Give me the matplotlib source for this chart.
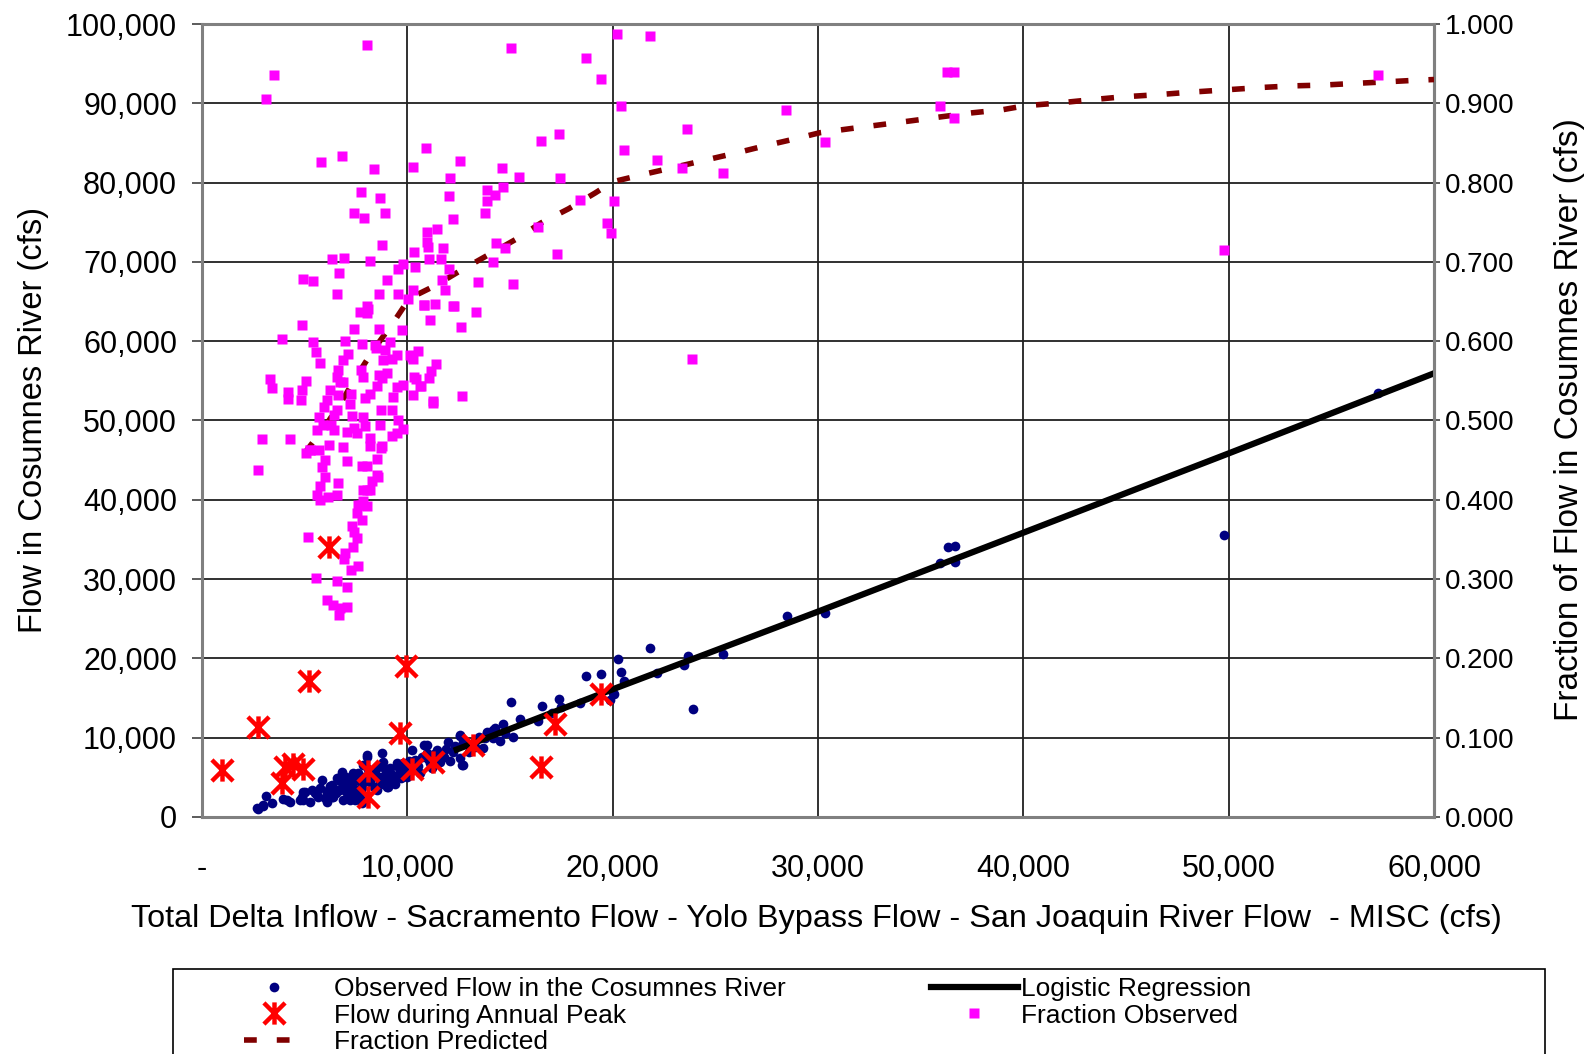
import numpy as np
import matplotlib
matplotlib.use("Agg")
import matplotlib.pyplot as plt
from matplotlib.path import Path
from matplotlib.patches import Rectangle
from matplotlib.ticker import FuncFormatter, MultipleLocator

plt.rcParams['font.family'] = ['Liberation Sans', 'DejaVu Sans']

# observed flow in the Cosumnes River (x = delta inflow residual, y = flow, cfs)
obs_x = [28490, 30350, 35950, 36310, 36690, 36670, 49790, 57290,
         21820, 20250, 20390, 20550, 20080, 19870, 19430, 18700, 22150, 23450,
         23660, 25350, 23890, 15050, 17400, 17490, 16550, 15490, 18410, 16380,
         14680, 14270, 13870, 14190, 14760, 15160, 13300, 17030, 12570, 12700,
         13780, 14190, 20030,
         10940, 10790, 10210, 10380, 10940, 11110, 11430, 11760, 12000, 12210,
         12570, 12650, 12730, 12570, 13870, 13700,
         2660, 2990, 3390, 3120, 3960, 4290, 4860, 5020, 5340, 4940, 5260, 5670,
         5750, 6070, 6070, 6320, 6400, 6560, 6720, 6800, 6880, 7130, 7210, 7370,
         7450, 7610, 7730, 7860, 8020, 7780, 8280, 8360, 8590, 8670, 8830, 8910,
         9080, 9160, 9320, 9480, 9560, 9730, 9810, 8750,
         2740, 2950, 4120, 4940, 4770, 5830, 5590, 6070, 6230, 6320, 6560, 6800,
         6880, 7050, 7210, 7370, 7450, 7690, 7780, 8020, 8830, 9000, 9320, 9480,
         9650, 9890,
         5500, 6000, 6200, 6500, 6700, 7000, 7000, 7300, 7500, 7600, 7800, 7900,
         8100, 8200, 8400, 8500, 8600, 8800, 8900, 9100, 9200, 9400, 9600, 9700,
         9900, 10000, 10100, 10200, 10500, 10600, 10700, 11000, 11200, 11300,
         11600, 11900, 12100, 12300, 13000, 13300, 13500, 14500]
obs_y = [25350, 25690, 32070, 34010, 34210, 32190, 35520, 53510,
         21350, 19860, 18250, 17150, 15470, 14750, 17990, 17780, 18200, 19170,
         20340, 20550, 13660, 14460, 14880, 13910, 14000, 12360, 14330, 12110,
         11730, 11190, 10760, 9920, 10550, 10050, 8870, 13050, 10250, 6560,
         9900, 10970, 15600,
         9080, 9080, 8450, 7190, 8030, 6770, 8450, 7600, 9500, 8240,
         7400, 6560, 9500, 10340, 10550, 8660,
         1100, 1390, 1730, 2650, 2230, 1930, 2560, 3190, 3400, 2140, 1930, 2560,
         3620, 3190, 1930, 4040, 2560, 4880, 3400, 5710, 2140, 4250, 2990, 5590,
         2140, 4670, 3400, 6560, 7820, 1730, 5080, 3820, 6340, 4450, 6970, 5300,
         3820, 6130, 4670, 6560, 5300, 5710, 6770, 8030,
         970, 1510, 2140, 3190, 2140, 4670, 2770, 2990, 3920, 2560, 3400, 5370,
         4250, 2990, 2140, 3820, 5080, 2330, 4250, 7600, 5080, 3820, 4880, 6770,
         5710, 5500,
         3000, 2400, 3500, 3000, 4500, 3600, 5000, 4600, 3200, 5500, 3800, 5000,
         6000, 4400, 5600, 3400, 5000, 4200, 6000, 4600, 5400, 4200, 6200, 4900,
         6300, 5000, 7000, 5800, 6400, 5600, 7600, 7300, 6200, 7900,
         6900, 8600, 7000, 9000, 8200, 9600, 10100, 9600]

# flow during annual peak
peak_x = [990, 2740, 5230, 9920, 9650, 3880, 4040, 4450, 4900, 8100, 8100,
          10240, 11270, 13220, 17190, 16510, 19430, 6190]
peak_y = [5930, 11390, 17150, 19080, 10560, 4250, 6340, 6680, 6010, 5840, 2560,
          6050, 6970, 9080, 11730, 6340, 15510, 34090]

# logistic regression fit
reg_x = [12400, 20000, 30000, 40000, 50000, 60000]
reg_y = [8500, 16100, 25900, 35850, 45850, 55950]

# fraction predicted (right axis)
pred_x = [5000, 6000, 6800, 7500, 8400, 9300, 10100, 11350, 12650, 13950, 15250,
          16500, 17850, 19150, 20000, 21600, 22950, 24450, 25950, 27350, 28850,
          30100, 31550, 33050, 34550, 36000, 37500, 39000, 40100, 41550, 43100,
          44750, 46600, 48100, 49850, 51600, 53100, 54600, 56050, 57600, 59050,
          60000]
pred_f = [0.459, 0.493, 0.524, 0.555, 0.591, 0.623, 0.654, 0.670, 0.690, 0.709,
          0.728, 0.749, 0.767, 0.787, 0.801, 0.811, 0.819, 0.828, 0.837, 0.846,
          0.855, 0.863, 0.868, 0.873, 0.878, 0.883, 0.888, 0.892, 0.897, 0.900,
          0.904, 0.908, 0.911, 0.914, 0.917, 0.920, 0.922, 0.923, 0.925, 0.927,
          0.929, 0.930]

# fraction observed (right axis)
frac_x = [3100, 3490, 8020, 15050, 18700, 19420, 20230, 21830, 20380, 17400,
          16510, 10900, 20540, 22180, 23390, 23640, 25350, 28460, 30320, 35920,
          36280, 36630, 36630, 49780, 57270, 23860,
          5810, 6830, 8360, 10260, 12550, 14610, 15460, 17450, 12060, 7740, 8670,
          7390, 7880, 8900, 12050, 13880, 14270, 14680, 13880, 13770, 12240,
          18410, 20040, 19730, 19920, 16350, 17290, 10940, 10940, 11430, 11740,
          10300, 10990, 14330, 14740, 14160, 15160, 13430, 11640, 11070, 12050,
          11700, 11840, 10380, 9780, 9530, 9030, 8170, 8770, 6690, 6590, 6320,
          6930, 4940, 5390, 8620, 9560, 10260, 13330, 12250, 11350, 10810, 10020,
          8050,
          4860, 3910, 5420, 5550, 5750, 6970, 7390, 7810, 8620, 8020, 8430, 9160,
          7130, 6880, 6720, 6640, 6590, 6280, 6170, 5990, 5760, 5750,
          3310, 3430, 4200, 4200, 5050, 4870, 4820, 2940, 4290, 2730, 5260, 5710,
          7270, 7320, 7400, 7860, 7930, 6870, 7050, 7810, 8020, 8180, 8780, 8510,
          8300, 8020,
          8600, 9000, 8700, 9240, 9320, 9480, 9790, 9760, 9500, 10130, 10290,
          10500, 10340, 10620, 11070, 11150, 11380, 10290, 11250, 12660, 12620,
          7740, 8590, 7830, 8180, 6610, 5990, 5830, 5610, 6150, 6550, 7860, 7610,
          8020, 7540, 7780, 7290, 7400, 7540, 7340, 6970, 6920, 7610, 7240, 5180,
          5550, 6560, 7050, 6070, 6400, 6720, 7050, 6690,
          7690, 8100, 8460, 8930, 8830, 9240, 6640, 7740, 6560, 6880, 7860, 8750,
          8510, 8180, 7940, 6230, 6070, 5960, 7210, 6430, 5710, 5880, 5610, 6440,
          7050, 7540, 8180, 8700, 9240, 9480, 9780, 9520, 8670, 5280, 5070, 8510,
          11110, 10830, 12210, 10210, 10410, 10650, 11240]
frac_f = [0.905, 0.936, 0.973, 0.970, 0.957, 0.931, 0.988, 0.985, 0.897, 0.861,
          0.852, 0.844, 0.841, 0.829, 0.819, 0.867, 0.812, 0.891, 0.851, 0.896,
          0.940, 0.939, 0.881, 0.715, 0.936, 0.577,
          0.826, 0.833, 0.817, 0.820, 0.827, 0.818, 0.807, 0.806, 0.806, 0.788,
          0.780, 0.762, 0.755, 0.762, 0.783, 0.791, 0.784, 0.794, 0.777, 0.762,
          0.754, 0.778, 0.777, 0.749, 0.736, 0.744, 0.710, 0.738, 0.725, 0.742,
          0.717, 0.712, 0.719, 0.724, 0.717, 0.700, 0.672, 0.675, 0.704, 0.704,
          0.691, 0.677, 0.665, 0.693, 0.697, 0.691, 0.677, 0.701, 0.721, 0.686,
          0.660, 0.704, 0.705, 0.678, 0.676, 0.660, 0.660, 0.665, 0.637, 0.645,
          0.647, 0.646, 0.653, 0.644,
          0.620, 0.603, 0.599, 0.586, 0.573, 0.600, 0.616, 0.597, 0.616, 0.636,
          0.595, 0.599, 0.584, 0.576, 0.548, 0.532, 0.513, 0.494, 0.469, 0.450,
          0.417, 0.400,
          0.552, 0.541, 0.536, 0.527, 0.550, 0.538, 0.526, 0.477, 0.477, 0.438,
          0.463, 0.463,
          0.533, 0.506, 0.490, 0.504, 0.493, 0.467, 0.449, 0.442, 0.443, 0.478,
          0.468, 0.431, 0.424, 0.412,
          0.557, 0.560, 0.513, 0.513, 0.530, 0.542, 0.545, 0.614, 0.583, 0.583,
          0.578, 0.588, 0.555, 0.543, 0.554, 0.562, 0.571, 0.532, 0.522, 0.531,
          0.618,
          0.394, 0.429, 0.412, 0.412, 0.421, 0.429, 0.441, 0.406, 0.404, 0.406,
          0.398, 0.393, 0.392, 0.383, 0.374, 0.367, 0.359, 0.352, 0.341, 0.333,
          0.325, 0.316, 0.311, 0.353, 0.301, 0.297, 0.290, 0.273, 0.267, 0.263,
          0.265, 0.255,
          0.637, 0.641, 0.591, 0.589, 0.576, 0.578, 0.564, 0.564, 0.555, 0.549,
          0.555, 0.553, 0.543, 0.534, 0.528, 0.539, 0.526, 0.517, 0.521, 0.507,
          0.504, 0.494, 0.488, 0.488, 0.485, 0.484, 0.468, 0.465, 0.480, 0.484,
          0.489, 0.501, 0.494, 0.463, 0.459, 0.452,
          0.627, 0.646, 0.644, 0.580, 0.552, 0.543, 0.524]

x_label = "Total Delta Inflow - Sacramento Flow - Yolo Bypass Flow - San Joaquin River Flow  - MISC (cfs)"
y_label = "Flow in Cosumnes River (cfs)"
y2_label = "Fraction of Flow in Cosumnes River (cfs)"

navy = '#000080'
pink = '#ff00ff'
dark_red = '#800000'

# asterisk marker: X with a vertical bar
star = Path([(-1, -1), (1, 1), (-1, 1), (1, -1), (0, -1.05), (0, 1.05)],
            [Path.MOVETO, Path.LINETO, Path.MOVETO, Path.LINETO,
             Path.MOVETO, Path.LINETO])

fig = plt.figure(figsize=(15.96, 10.54), dpi=100)
ax = fig.add_axes([0.1266, 0.2249, 0.7719, 0.7523])
ax2 = ax.twinx()

h_obs, = ax.plot(obs_x, obs_y, 'o', color=navy, ms=7, mec='none', zorder=3,
                 label="Observed Flow in the Cosumnes River")
h_reg, = ax.plot(reg_x, reg_y, '-', color='black', lw=4.5, zorder=4,
                 label="Logistic Regression")
h_peak, = ax.plot(peak_x, peak_y, ls='none', marker=star, ms=16, mfc='none',
                  mec='#ff0000', mew=3.2, zorder=5, label="Flow during Annual Peak")

h_pred, = ax2.plot(pred_x, pred_f, color=dark_red, lw=4, ls=(0, (2.3, 3.6)),
                   dash_capstyle='butt', zorder=3, label="Fraction Predicted")
h_frac, = ax2.plot(frac_x, frac_f, 's', color=pink, ms=7, mec='none', zorder=4,
                   label="Fraction Observed")

ax.set_xlim(0, 60000)
ax.set_ylim(0, 100000)
ax2.set_ylim(0, 1)

ax.xaxis.set_major_locator(MultipleLocator(10000))
ax.yaxis.set_major_locator(MultipleLocator(10000))
ax2.yaxis.set_major_locator(MultipleLocator(0.1))

ax.xaxis.set_major_formatter(FuncFormatter(lambda v, p: "-" if v == 0 else f"{int(v):,}"))
ax.yaxis.set_major_formatter(FuncFormatter(lambda v, p: f"{int(v):,}"))
ax2.yaxis.set_major_formatter(FuncFormatter(lambda v, p: f"{v:.3f}"))

ax.grid(True, color='#202020', lw=1.3)
ax.set_axisbelow(True)

for sp in ax.spines.values():
    sp.set_color('#808080')
    sp.set_linewidth(2.2)
for sp in ax2.spines.values():
    sp.set_visible(False)
ax2.spines['right'].set_visible(True)
ax2.spines['right'].set_color('#808080')
ax2.spines['right'].set_linewidth(2.2)

ax.tick_params(axis='y', direction='out', length=7, width=1.2, color='#404040',
               pad=11, labelsize=22)
ax.tick_params(axis='x', length=0, pad=27, labelsize=22)
ax2.tick_params(axis='y', direction='out', length=4.5, width=1.2, color='#404040',
                pad=3, labelsize=20)

fig.text(0.5113, 0.128, x_label, ha='center', va='center', fontsize=23.3)
fig.text(0.0207, 0.6015, y_label, ha='center', va='center', rotation=90, fontsize=23.5)
fig.text(0.9837, 0.6015, y2_label, ha='center', va='center', rotation=90, fontsize=24)

# legend frame (runs off the bottom of the picture, as in the original)
fig.patches.append(Rectangle((0.1084, -0.02), 0.8596, 0.1006, transform=fig.transFigure,
                             fill=False, edgecolor='black', lw=1.2))

leg1 = fig.legend(handles=[h_obs, h_peak, h_pred], loc='upper left',
                  bbox_to_anchor=(0.1529, 0.073), frameon=False, fontsize=19,
                  borderpad=0, borderaxespad=0, handlelength=2.3,
                  handletextpad=1.1, labelspacing=0.1)
leg2 = fig.legend(handles=[h_reg, h_frac], loc='upper left',
                  bbox_to_anchor=(0.5833, 0.073), frameon=False, fontsize=19,
                  borderpad=0, borderaxespad=0, handlelength=3.3,
                  handletextpad=0.1, labelspacing=0.1)

fig.savefig("out.png", dpi=100)
